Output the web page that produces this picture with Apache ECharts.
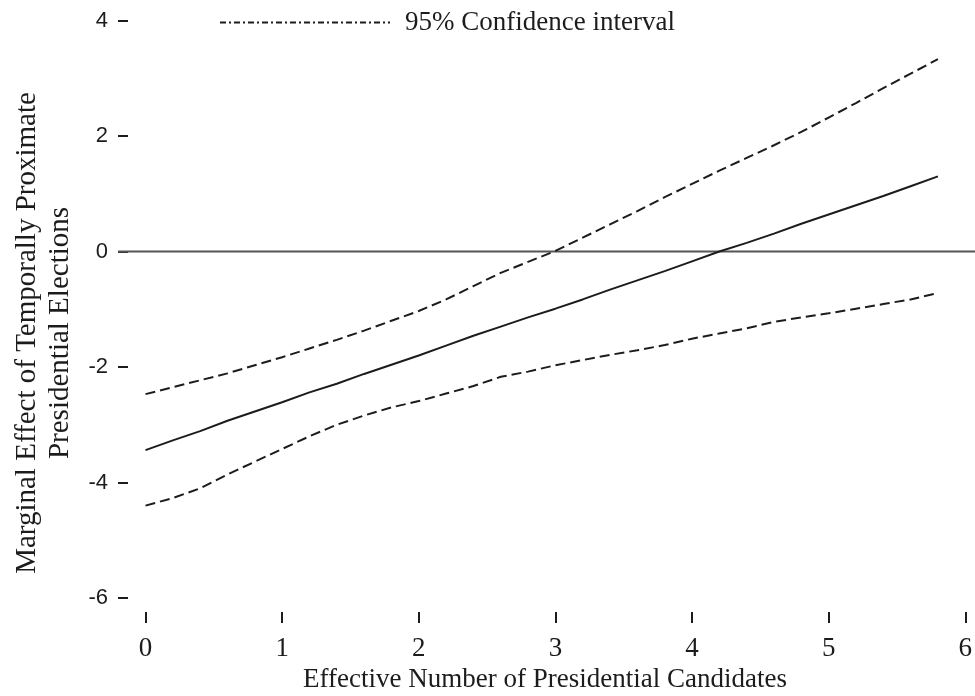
<!DOCTYPE html>
<html>
<head>
<meta charset="utf-8">
<script src="https://cdn.jsdelivr.net/npm/echarts@6/dist/echarts.min.js"></script>
<style>
  html, body { margin: 0; padding: 0; background: #fff; }
  #chart { width: 975px; height: 696px; }
</style>
</head>
<body>
<div id="chart"></div>
<script>
// Effective number of presidential candidates (x values of the estimates)
var candidates = [0, 0.2, 0.4, 0.6, 0.8, 1.0, 1.2, 1.4, 1.6, 1.8, 2.0, 2.2, 2.4, 2.6, 2.8,
                  3.0, 3.2, 3.4, 3.6, 3.8, 4.0, 4.2, 4.4, 4.6, 4.8, 5.0, 5.2, 5.4, 5.6, 5.8];

// Marginal effect (point estimate)
var marginalEffect = [-3.44, -3.27, -3.11, -2.93, -2.77, -2.61, -2.44, -2.29, -2.12, -1.96,
                      -1.80, -1.63, -1.46, -1.30, -1.14, -0.99, -0.83, -0.66, -0.50, -0.34,
                      -0.17, 0.00, 0.15, 0.31, 0.48, 0.64, 0.80, 0.96, 1.13, 1.30];

// Upper bound of the 95% confidence interval
var upperBound = [-2.47, -2.35, -2.23, -2.11, -1.97, -1.83, -1.68, -1.53, -1.37, -1.20,
                  -1.03, -0.83, -0.60, -0.37, -0.18, 0.01, 0.24, 0.47, 0.70, 0.94,
                  1.17, 1.40, 1.62, 1.84, 2.07, 2.32, 2.57, 2.83, 3.08, 3.33];

// Lower bound of the 95% confidence interval
var lowerBound = [-4.40, -4.27, -4.10, -3.86, -3.64, -3.42, -3.20, -3.00, -2.84, -2.70,
                  -2.59, -2.46, -2.33, -2.17, -2.08, -1.97, -1.88, -1.79, -1.71, -1.62,
                  -1.51, -1.42, -1.33, -1.22, -1.14, -1.07, -0.99, -0.91, -0.83, -0.72];

// Horizontal reference line at zero; drawn on a wider helper grid so it
// starts at the y ticks and runs to the right edge
var zeroLine = [[0, 0], [1, 0]];

var xTicks = [0, 1, 2, 3, 4, 5, 6];
var yTicks = [-6, -4, -2, 0, 2, 4];

var ciName = '95% Confidence interval';
var serif = '"Liberation Serif", "Times New Roman", serif';
var sans = '"Liberation Sans", Arial, sans-serif';
var ink = '#1c1c1c';

function pairs(xs, ys) {
  return xs.map(function (x, i) { return [x, ys[i]]; });
}

var chart = echarts.init(document.getElementById('chart'), null, { renderer: 'canvas' });

chart.setOption({
  animation: false,
  backgroundColor: '#fff',
  grid: [
    { left: 145.5, right: 4, top: 20.5, bottom: 98, containLabel: false },
    { left: 118, right: 0, top: 20.5, bottom: 98, containLabel: false }
  ],
  legend: {
    data: [ciName],
    left: 214,
    top: 4,
    itemWidth: 170,
    itemHeight: 14,
    selectedMode: false,
    itemStyle: { opacity: 0 },
    lineStyle: { type: [6, 3, 2, 3], width: 2, color: ink },
    textStyle: { fontFamily: serif, fontSize: 27, color: ink, padding: [0, 0, 0, 10] }
  },
  xAxis: [
    {
      type: 'value',
      gridIndex: 0,
      min: xTicks[0],
      max: xTicks[xTicks.length - 1],
      interval: 1,
      offset: 14,
      axisLine: { show: false, onZero: false },
      axisTick: { show: true, length: 11, lineStyle: { color: ink, width: 2 } },
      axisLabel: { margin: 23, fontFamily: serif, fontSize: 27, color: ink,
                   showMaxLabel: true, showMinLabel: true },
      splitLine: { show: false }
    },
    { type: 'value', gridIndex: 1, min: 0, max: 1, show: false }
  ],
  yAxis: [
    {
      type: 'value',
      gridIndex: 0,
      min: yTicks[0],
      max: yTicks[yTicks.length - 1],
      interval: 2,
      offset: 17.5,
      axisLine: { show: false, onZero: false },
      axisTick: { show: true, length: 10, lineStyle: { color: ink, width: 2 } },
      axisLabel: { margin: 20, fontFamily: sans, fontSize: 22, color: ink },
      splitLine: { show: false }
    },
    { type: 'value', gridIndex: 1, min: yTicks[0], max: yTicks[yTicks.length - 1], show: false }
  ],
  graphic: [
    {
      type: 'text',
      x: 545,
      y: 680,
      style: {
        text: 'Effective Number of Presidential Candidates',
        font: '27px ' + serif,
        fill: ink,
        textAlign: 'center',
        textVerticalAlign: 'middle'
      }
    },
    {
      type: 'text',
      x: 43.5,
      y: 333,
      rotation: Math.PI / 2,
      style: {
        text: 'Marginal Effect of Temporally Proximate\nPresidential Elections',
        font: '29px ' + serif,
        fill: ink,
        lineHeight: 33,
        textAlign: 'center',
        textVerticalAlign: 'middle'
      }
    }
  ],
  series: [
    {
      name: 'zero',
      type: 'line',
      xAxisIndex: 1,
      yAxisIndex: 1,
      data: zeroLine,
      symbol: 'none',
      silent: true,
      lineStyle: { color: '#555', width: 2 }
    },
    {
      name: 'Marginal effect',
      type: 'line',
      data: pairs(candidates, marginalEffect),
      symbol: 'none',
      lineStyle: { color: ink, width: 2 }
    },
    {
      name: ciName,
      type: 'line',
      data: pairs(candidates, upperBound),
      symbol: 'none',
      lineStyle: { color: ink, width: 2, type: [10, 5] }
    },
    {
      name: 'Lower bound',
      type: 'line',
      data: pairs(candidates, lowerBound),
      symbol: 'none',
      lineStyle: { color: ink, width: 2, type: [10, 5] }
    }
  ]
});
</script>
</body>
</html>
